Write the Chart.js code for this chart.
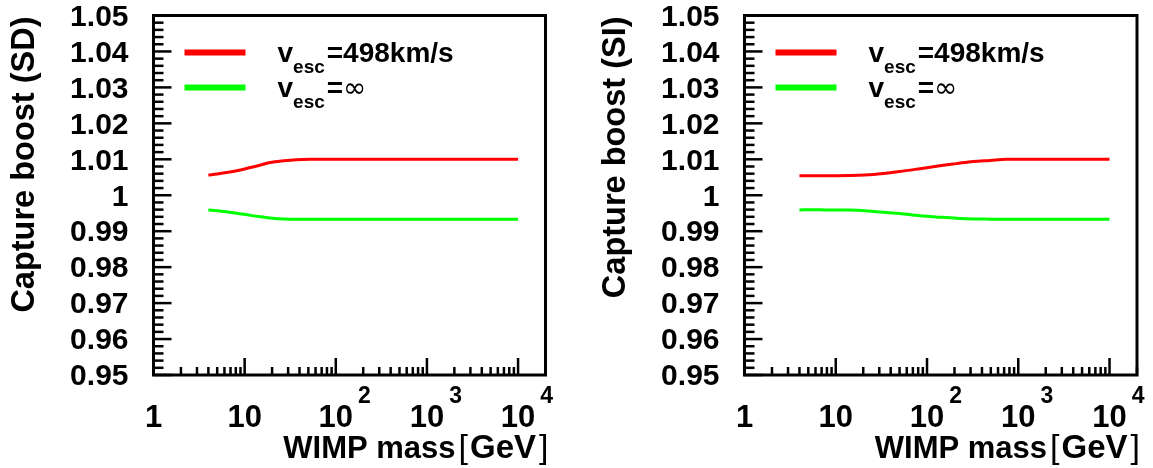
<!DOCTYPE html>
<html>
<head>
<meta charset="utf-8">
<script src="https://cdn.jsdelivr.net/npm/chart.js@4"></script>
<style>
  html, body { margin: 0; padding: 0; background: #fff; }
  body { width: 1153px; height: 468px; position: relative; overflow: hidden; }
  canvas { position: absolute; top: 0; }
</style>
</head>
<body>
<canvas id="sd" width="591" height="468" style="left:0"></canvas>
<canvas id="si" width="562" height="468" style="left:591px"></canvas>
<script>
// WIMP mass [GeV] and capture boost
const massSD = [4, 5, 8.2, 11.5, 15, 19, 27, 37, 52, 70, 100, 1000, 10000];
const boostSDesc = [1.0056, 1.0059, 1.0068, 1.0077, 1.0084, 1.0091, 1.0096, 1.0099, 1.0100, 1.0100, 1.0100, 1.0100, 1.0100];
const boostSDinf = [0.9959, 0.9957, 0.9950, 0.9944, 0.9940, 0.9937, 0.9934, 0.9933, 0.9933, 0.9933, 0.9933, 0.9933, 0.9933];

const massSI = [4, 6, 8, 14, 26, 50, 84, 138, 210, 320, 490, 740, 1000, 10000];
const boostSIesc = [1.0054, 1.0054, 1.0054, 1.0055, 1.0058, 1.0066, 1.0074, 1.0082, 1.0088, 1.0094, 1.0097, 1.0100, 1.0100, 1.0100];
const boostSIinf = [0.9959, 0.9960, 0.9959, 0.9959, 0.9955, 0.9949, 0.9943, 0.9939, 0.9936, 0.9934, 0.99335, 0.9933, 0.9933, 0.9933];

const yTickValues = [1.05, 1.04, 1.03, 1.02, 1.01, 1.00, 0.99, 0.98, 0.97, 0.96, 0.95];
const yTickLabels = ['1.05', '1.04', '1.03', '1.02', '1.01', '1', '0.99', '0.98', '0.97', '0.96', '0.95'];
const xTickValues = [1, 10, 100, 1000, 10000];
const xTickBase = ['1', '10', '10', '10', '10'];
const xTickExp = ['', '', '2', '3', '4'];

const legendMain = ['v', 'v'];
const legendSub = ['esc', 'esc'];
const legendRest = ['=498km/s', '='];
const legendSymbol = ['', '\u221E'];
const xTitle = ['WIMP mass', '[', 'GeV', ']'];

const BOLD = '"Liberation Sans", Arial, Helvetica, sans-serif';
const RED = '#ff0000';
const GREEN = '#00ff00';

function line(ctx, x1, y1, x2, y2) {
    ctx.beginPath();
    ctx.moveTo(x1, y1);
    ctx.lineTo(x2, y2);
    ctx.stroke();
}

// ROOT style frame, inward ticks, labels and legend
const rootFrame = {
    id: 'rootFrame',
    afterDraw(chart, args, opts) {
        const { ctx, chartArea: a } = chart;
        const xs = chart.scales.x, ys = chart.scales.y;
        ctx.save();
        ctx.strokeStyle = '#000';
        ctx.fillStyle = '#000';
        ctx.lineWidth = 3;
        ctx.strokeRect(a.left, a.top, a.right - a.left, a.bottom - a.top);

        ctx.lineWidth = 2.5;
        for (let i = 0; i <= 50; i++) {
            const py = ys.getPixelForValue(0.95 + i * 0.002);
            line(ctx, a.left, py, a.left + (i % 5 === 0 ? 18 : 10), py);
        }
        for (let d = 0; d <= 4; d++) {
            for (let k = 1; k <= 9; k++) {
                const v = k * Math.pow(10, d);
                if (v > xs.max) break;
                const px = xs.getPixelForValue(v);
                line(ctx, px, a.bottom, px, a.bottom - (k === 1 ? 17 : 8));
            }
        }

        // y tick labels
        ctx.font = 'bold 30px ' + BOLD;
        ctx.textAlign = 'right';
        ctx.textBaseline = 'middle';
        yTickValues.forEach((v, i) => {
            ctx.fillText(yTickLabels[i], a.left - 25, ys.getPixelForValue(v) + 2);
        });

        // x tick labels with exponents
        ctx.textBaseline = 'alphabetic';
        xTickValues.forEach((v, i) => {
            const px = xs.getPixelForValue(v);
            ctx.font = 'bold 31px ' + BOLD;
            ctx.textAlign = 'center';
            ctx.fillText(xTickBase[i], px, 427);
            if (xTickExp[i]) {
                const w = ctx.measureText(xTickBase[i]).width;
                ctx.font = 'bold 23px ' + BOLD;
                ctx.textAlign = 'left';
                ctx.fillText(xTickExp[i], px + w / 2 + 5, 403);
            }
        });

        // x title, right aligned to the frame
        const parts = [
            { t: xTitle[0], f: 'bold 31px ' + BOLD, gap: 0 },
            { t: xTitle[1], f: '34px ' + BOLD, gap: 3 },
            { t: xTitle[2], f: 'bold 33px ' + BOLD, gap: 2 },
            { t: xTitle[3], f: '34px ' + BOLD, gap: 3 }
        ];
        let tx = a.right + 3;
        ctx.textAlign = 'right';
        for (let i = parts.length - 1; i >= 0; i--) {
            ctx.font = parts[i].f;
            ctx.fillText(parts[i].t, tx, 458);
            tx -= ctx.measureText(parts[i].t).width + parts[i].gap;
        }

        // y title
        ctx.save();
        ctx.translate(a.left - 120, a.top + 1);
        ctx.rotate(-Math.PI / 2);
        ctx.font = 'bold 32.5px ' + BOLD;
        ctx.textAlign = 'right';
        ctx.fillText(opts.yTitle, 0, 0);
        ctx.restore();

        // legend
        const colors = [RED, GREEN];
        const rows = [a.top + 37, a.top + 72];
        ctx.textAlign = 'left';
        colors.forEach((c, i) => {
            const ly = rows[i];
            ctx.strokeStyle = c;
            ctx.lineWidth = 6;
            line(ctx, a.left + 31, ly, a.left + 92, ly);
            let lx = a.left + 124;
            const base = ly + 9;
            ctx.font = 'bold 28px ' + BOLD;
            ctx.fillText(legendMain[i], lx, base);
            lx += ctx.measureText(legendMain[i]).width;
            ctx.font = 'bold 19px ' + BOLD;
            ctx.fillText(legendSub[i], lx, base + 11);
            lx += ctx.measureText(legendSub[i]).width + 2;
            ctx.font = 'bold 28px ' + BOLD;
            ctx.fillText(legendRest[i], lx, base);
            lx += ctx.measureText(legendRest[i]).width;
            if (legendSymbol[i]) {
                ctx.font = '28px "DejaVu Sans", ' + BOLD;
                ctx.fillText(legendSymbol[i], lx, base);
            }
        });
        ctx.restore();
    }
};

function makePanel(id, mass, esc, inf, yTitle, padRight) {
    const pts = (vals) => mass.map((m, i) => ({ x: m, y: vals[i] }));
    const lineStyle = { borderWidth: 3, pointRadius: 0, fill: false, cubicInterpolationMode: 'monotone' };
    return new Chart(document.getElementById(id).getContext('2d'), {
        type: 'line',
        data: {
            datasets: [
                Object.assign({ label: 'v_esc=498km/s', data: pts(esc), borderColor: RED }, lineStyle),
                Object.assign({ label: 'v_esc=inf', data: pts(inf), borderColor: GREEN }, lineStyle)
            ]
        },
        options: {
            responsive: false,
            animation: false,
            devicePixelRatio: 1,
            layout: { padding: { left: 0, right: padRight, top: 15.5, bottom: 0 } },
            plugins: {
                legend: { display: false },
                tooltip: { enabled: false },
                rootFrame: { yTitle: yTitle }
            },
            scales: {
                x: {
                    type: 'logarithmic',
                    min: 1,
                    max: 20000,
                    grid: { display: false },
                    border: { display: false },
                    ticks: { display: false },
                    afterFit: (scale) => { scale.height = 468 - 375; }
                },
                y: {
                    type: 'linear',
                    min: 0.95,
                    max: 1.05,
                    grid: { display: false },
                    border: { display: false },
                    ticks: { display: false },
                    afterFit: (scale) => { scale.width = 153.5; }
                }
            }
        },
        plugins: [rootFrame]
    });
}

makePanel('sd', massSD, boostSDesc, boostSDinf, 'Capture boost (SD)', 591 - 545.5);
makePanel('si', massSI, boostSIesc, boostSIinf, 'Capture boost (SI)', 562 - 546);
</script>
</body>
</html>
